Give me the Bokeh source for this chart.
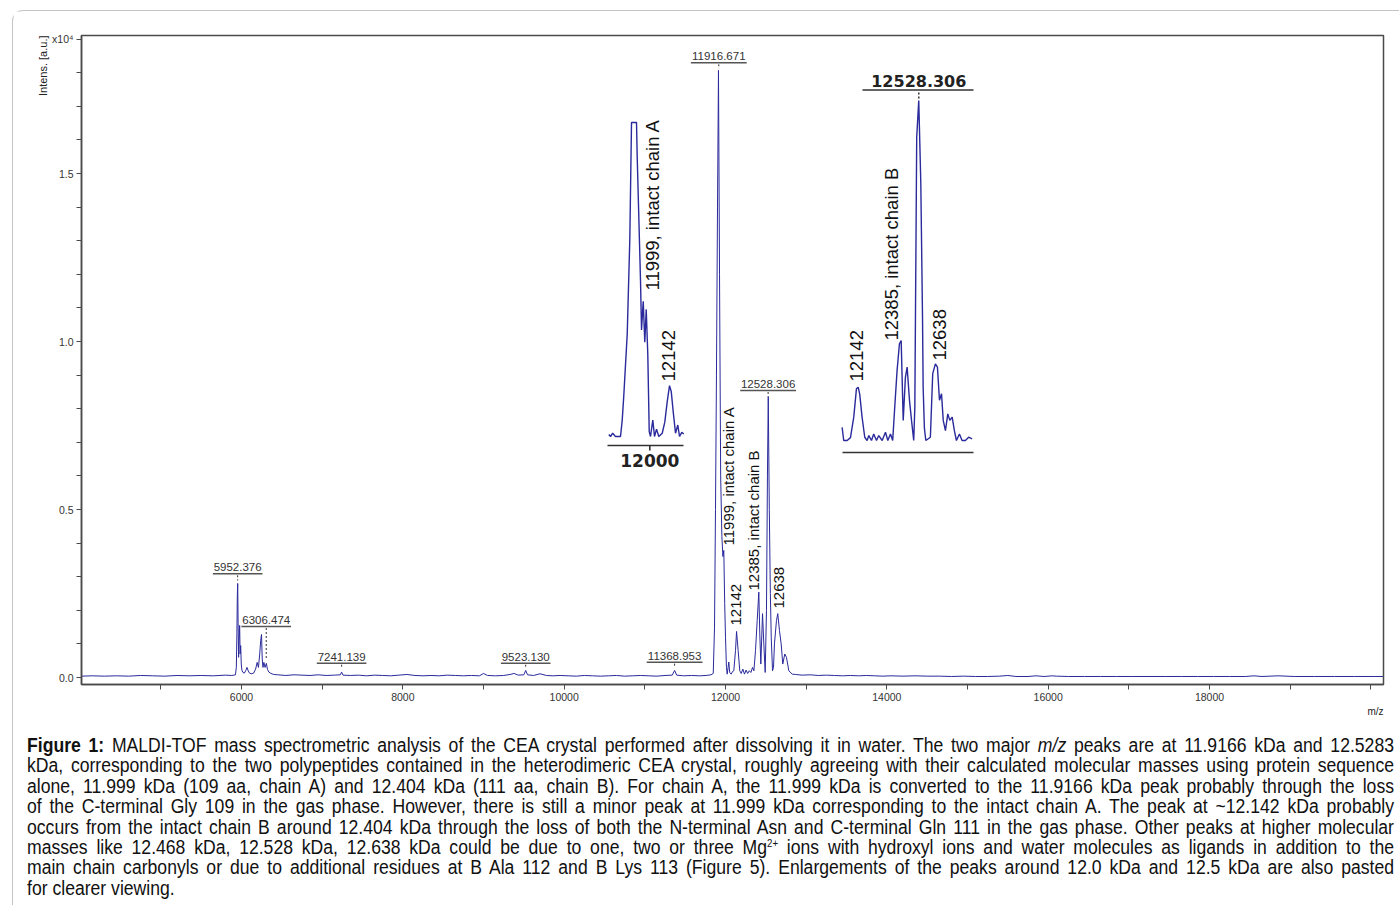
import math
from bokeh.plotting import figure
from bokeh.models import (Range1d, FixedTicker, CustomJSTickFormatter,
                          BasicTickFormatter, Title, Div)
from bokeh.layouts import column
from bokeh.embed import file_html
from bokeh.resources import INLINE
from bokeh.core.properties import value

# ------------------------------------------------------------------ data
# main spectrum (m/z, intensity x10^4)
low_mz = [4020, 4150, 4300, 4450, 4600, 4750, 4900, 5050, 5200, 5350,
          5500, 5650, 5800, 5880]
low_int = [0.004, 0.005, 0.004, 0.005, 0.004, 0.006, 0.005, 0.004, 0.006, 0.005,
           0.006, 0.005, 0.007, 0.006]

c6_mz = [5925, 5936, 5943, 5948, 5953, 5958, 5964, 5970, 5977, 5983,
         5990, 5997, 6005, 6018, 6035, 6052, 6068, 6080, 6095, 6120,
         6150, 6175, 6194, 6210, 6226, 6238, 6248, 6257, 6266, 6277,
         6292, 6308, 6322, 6340, 6365, 6400]
c6_int = [0.008, 0.03, 0.13, 0.24, 0.28, 0.16, 0.06, 0.11, 0.155, 0.07,
          0.095, 0.04, 0.022, 0.015, 0.013, 0.02, 0.03, 0.022, 0.014, 0.011,
          0.013, 0.025, 0.045, 0.03, 0.07, 0.11, 0.128, 0.055, 0.03, 0.045,
          0.03, 0.042, 0.024, 0.016, 0.012, 0.009]

mid_mz = [6450, 6550, 6650, 6750, 6850, 6950, 7050, 7150, 7225, 7241,
          7258, 7350, 7450, 7550, 7650, 7750, 7850, 7950, 8050, 8150,
          8250, 8350, 8450, 8550, 8650, 8750, 8850, 8950, 9000, 9050,
          9150, 9250, 9330, 9380, 9430, 9500, 9523, 9546, 9620, 9700,
          9780, 9860, 9950, 10050, 10150, 10250, 10350, 10450, 10550, 10650,
          10750, 10850, 10950, 11050, 11150, 11250, 11340, 11369, 11395, 11480,
          11580, 11680, 11760]
mid_int = [0.008, 0.006, 0.008, 0.007, 0.006, 0.008, 0.006, 0.007, 0.008, 0.016,
           0.007, 0.006, 0.007, 0.005, 0.007, 0.006, 0.005, 0.007, 0.009, 0.006,
           0.005, 0.006, 0.005, 0.007, 0.006, 0.005, 0.006, 0.005, 0.012, 0.006,
           0.005, 0.006, 0.009, 0.012, 0.007, 0.008, 0.021, 0.008, 0.006, 0.011,
           0.006, 0.005, 0.006, 0.005, 0.004, 0.006, 0.005, 0.004, 0.005, 0.006,
           0.004, 0.005, 0.006, 0.005, 0.004, 0.006, 0.007, 0.021, 0.007, 0.005,
           0.006, 0.005, 0.006]

c12_mz = [11820, 11848, 11864, 11876, 11888, 11901, 11913, 11926, 11940, 11955,
          11968, 11979, 11990, 12000, 12012, 12021, 12032, 12041, 12052, 12070,
          12088, 12103, 12124, 12137, 12157, 12177, 12195, 12215, 12235, 12255,
          12275, 12295, 12315, 12335, 12352, 12372, 12393, 12413, 12425, 12438,
          12459, 12475, 12492, 12508, 12520, 12530, 12543, 12556, 12567, 12583,
          12595, 12607, 12632, 12648, 12669, 12690, 12710, 12735, 12756, 12785,
          12827]
c12_int = [0.008, 0.012, 0.15, 0.5, 0.9, 1.4, 1.807, 1.2, 0.6, 0.42,
           0.36, 0.378, 0.22, 0.12, 0.03, 0.01, 0.03, 0.046, 0.015, 0.01,
           0.018, 0.02, 0.08, 0.137, 0.08, 0.02, 0.012, 0.025, 0.01, 0.022,
           0.012, 0.02, 0.015, 0.03, 0.02, 0.08, 0.17, 0.254, 0.13, 0.04,
           0.19, 0.1, 0.015, 0.2, 0.6, 0.836, 0.5, 0.25, 0.12, 0.02,
           0.03, 0.1, 0.17, 0.19, 0.14, 0.1, 0.04, 0.07, 0.06, 0.02,
           0.01]

hi_mz = [12870, 12950, 13050, 13150, 13250, 13350, 13450, 13550, 13650, 13750,
         13850, 13950, 14050, 14200, 14350, 14500, 14650, 14800, 14950, 15100,
         15250, 15400, 15500, 15600, 15750, 15850, 15950, 16050, 16100, 16250,
         16450, 16650, 16850, 17050, 17250, 17450, 17650, 17850, 18050, 18250,
         18450, 18550, 18650, 18850, 19050, 19300, 19550, 19800, 20050, 20150]
hi_int = [0.009, 0.007, 0.008, 0.006, 0.007, 0.006, 0.005, 0.006, 0.005, 0.006,
          0.005, 0.004, 0.005, 0.004, 0.005, 0.004, 0.004, 0.003, 0.004, 0.003,
          0.003, 0.004, 0.006, 0.003, 0.003, 0.005, 0.003, 0.005, 0.004, 0.003,
          0.003, 0.003, 0.003, 0.003, 0.003, 0.003, 0.003, 0.003, 0.003, 0.003,
          0.003, 0.005, 0.003, 0.005, 0.003, 0.003, 0.003, 0.003, 0.003, 0.003]

# enlargement around 12.0 kDa
ia_mz = [11713, 11725, 11740, 11760, 11795, 11807, 11818, 11842, 11860, 11872,
         11907, 11912, 11935, 11942, 11954, 11965, 11975, 11986, 11996, 12005,
         12021, 12033, 12047, 12063, 12087, 12105, 12122, 12138, 12150, 12164,
         12180, 12196, 12208, 12224, 12238]
ia_int = [0.005, 0.0, 0.008, 0.0, 0.0, 0.04, 0.1, 0.25, 0.48, 0.766,
          0.766, 0.68, 0.38, 0.26, 0.33, 0.23, 0.31, 0.2, 0.012, 0.0,
          0.04, 0.0, 0.018, 0.0, 0.008, 0.035, 0.085, 0.124, 0.11, 0.06,
          0.008, 0.028, 0.0, 0.01, 0.006]

# enlargement around 12.5 kDa
ib_mz = [12040, 12050, 12072, 12093, 12114, 12131, 12142, 12152, 12167, 12184,
         12199, 12210, 12227, 12241, 12259, 12273, 12295, 12316, 12331, 12348,
         12362, 12375, 12390, 12405, 12416, 12429, 12443, 12454, 12469, 12482,
         12496, 12503, 12507, 12515, 12528, 12541, 12552, 12556, 12564, 12573,
         12602, 12617, 12634, 12647, 12660, 12673, 12684, 12698, 12713, 12726,
         12741, 12755, 12768, 12787, 12804, 12825, 12846, 12868]
ib_int = [0.032, 0.0, 0.0, 0.007, 0.057, 0.126, 0.13, 0.113, 0.057, 0.008,
          0.0, 0.012, 0.0, 0.016, 0.0, 0.012, 0.0, 0.02, 0.0, 0.016,
          0.0, 0.081, 0.171, 0.236, 0.244, 0.049, 0.154, 0.179, 0.098, 0.049,
          0.0, 0.08, 0.3, 0.74, 0.829, 0.63, 0.3, 0.13, 0.03, 0.0,
          0.008, 0.163, 0.187, 0.179, 0.098, 0.114, 0.049, 0.024, 0.065, 0.049,
          0.057, 0.024, 0.0, 0.016, 0.0, 0.0, 0.008, 0.004]

x_major_ticks = [6000, 8000, 10000, 12000, 14000, 16000, 18000]
x_minor_ticks = [5000, 7000, 9000, 11000, 13000, 15000, 17000, 19000, 20000]
y_major_ticks = [0.0, 0.5, 1.0, 1.5, 1.9]
y_minor_ticks = [0.1, 0.2, 0.3, 0.4, 0.6, 0.7, 0.8, 0.9, 1.1, 1.2, 1.3, 1.4, 1.6, 1.7, 1.8]

peak_mz = [5952.376, 6306.474, 7241.139, 9523.130, 11368.953, 11916.671, 12528.306]
main_notes = ["11999, intact chain A", "12142", "12385, intact chain B", "12638"]
inset_a_notes = ["11999, intact chain A", "12142"]
inset_b_notes = ["12142", "12385, intact chain B", "12638"]
inset_a_tick = 12000
inset_b_peak = 12528.306

caption_lines = [
    "<b>Figure 1:</b> MALDI-TOF mass spectrometric analysis of the CEA crystal performed after dissolving it in water. The two major <i>m/z</i> peaks are at 11.9166 kDa and 12.5283",
    "kDa, corresponding to the two polypeptides contained in the heterodimeric CEA crystal, roughly agreeing with their calculated molecular masses using protein sequence",
    "alone, 11.999 kDa (109 aa, chain A) and 12.404 kDa (111 aa, chain B). For chain A, the 11.999 kDa is converted to the 11.9166 kDa peak probably through the loss",
    "of the C-terminal Gly 109 in the gas phase. However, there is still a minor peak at 11.999 kDa corresponding to the intact chain A. The peak at ~12.142 kDa probably",
    "occurs from the intact chain B around 12.404 kDa through the loss of both the N-terminal Asn and C-terminal Gln 111 in the gas phase. Other peaks at higher molecular",
    "masses like 12.468 kDa, 12.528 kDa, 12.638 kDa could be due to one, two or three Mg<sup style=\"font-size:11px;line-height:0;vertical-align:7px\">2+</sup> ions with hydroxyl ions and water molecules as ligands in addition to the",
    "main chain carbonyls or due to additional residues at B Ala 112 and B Lys 113 (Figure 5). Enlargements of the peaks around 12.0 kDa and 12.5 kDa are also pasted",
    "for clearer viewing.",
]

# ------------------------------------------------------------------ layout (page pixels)
FL, FR, FT, FB = 81, 1383, 35, 684
PX_PER_DA = 968 / 12000.0

def main_x(px): return 6000 + (px - 241) / PX_PER_DA
def main_px(mz): return 241 + (mz - 6000) * PX_PER_DA
def main_y(py): return (677 - py) * 1.5 / 504.0
def a_x(px): return 12000 + (px - 649.3) * 7.0
def a_y(py): return (436 - py) / 410.0
def b_x(px): return 12528.306 + (px - 918.3) * 6.37
def b_y(py): return (440 - py) / 410.0

BLUE = "#2a2a9c"
INK = "#222222"
SANS = value("Liberation Sans")

p = figure(width=1376, height=709,
           x_range=Range1d(main_x(FL), main_x(FR)),
           y_range=Range1d(main_y(FB), main_y(FT)),
           output_backend="svg", toolbar_location=None,
           min_border_left=68, min_border_right=6, min_border_top=24, min_border_bottom=36)
p.extra_x_ranges = {"a": Range1d(a_x(FL), a_x(FR)), "b": Range1d(b_x(FL), b_x(FR))}
p.extra_y_ranges = {"a": Range1d(a_y(FB), a_y(FT)), "b": Range1d(b_y(FB), b_y(FT))}

p.grid.visible = False
p.outline_line_color = "#4a4a4a"
p.outline_line_width = 1.5

p.xaxis.ticker = FixedTicker(ticks=x_major_ticks, minor_ticks=x_minor_ticks)
p.xaxis.formatter = BasicTickFormatter(use_scientific=False)
p.yaxis.ticker = FixedTicker(ticks=y_major_ticks, minor_ticks=y_minor_ticks)
p.yaxis.formatter = CustomJSTickFormatter(
    code="return tick > 1.8 ? 'x10\u2074' : tick.toFixed(1);")
for ax in (p.xaxis, p.yaxis):
    ax.axis_line_color = "#4a4a4a"
    ax.axis_line_width = 1.5
    ax.major_tick_line_color = "#4a4a4a"
    ax.minor_tick_line_color = "#4a4a4a"
    ax.major_tick_out = 5
    ax.major_tick_in = 0
    ax.minor_tick_out = 5
    ax.minor_tick_in = 0
    ax.major_label_text_font = "Liberation Sans"
    ax.major_label_text_font_size = "10.5px"
    ax.major_label_text_color = "#333333"
    ax.major_label_standoff = 3

p.add_layout(Title(text="Intens. [a.u.]", align="right", text_font="Liberation Sans",
                   text_font_size="11px", text_font_style="normal", text_color=INK,
                   standoff=2), "left")
p.add_layout(Title(text="m/z", align="right", text_font="Liberation Sans",
                   text_font_size="10px", text_font_style="normal", text_color=INK,
                   standoff=0), "below")

# spectrum
spec_mz = low_mz + c6_mz + mid_mz + c12_mz + hi_mz
spec_int = low_int + c6_int + mid_int + c12_int + hi_int
p.line(spec_mz, spec_int, line_color=BLUE, line_width=1)

# peak labels (value, underline, dotted leader)
label_layout = {5952.376: (573.3, 580), 6306.474: (626, 658), 7241.139: (662.7, 668),
                9523.130: (662.7, 667), 11368.953: (661.7, 667), 11916.671: (62.3, 68),
                12528.306: (390, 396)}
for mz in peak_mz:
    cx = main_px(mz)
    txt = "%.3f" % mz
    hw = 3.1 * len(txt)
    ul_py, tip_py = label_layout[mz]
    p.text(x=[mz], y=[main_y(ul_py - 6.5)], text=[txt], text_align="center",
           text_baseline="middle", text_font=SANS, text_font_size="11.5px",
           text_color="#333333")
    p.segment(x0=[main_x(cx - hw)], y0=[main_y(ul_py)], x1=[main_x(cx + hw)], y1=[main_y(ul_py)],
              line_color="#555555", line_width=1.5)
    p.segment(x0=[mz], y0=[main_y(ul_py + 1.5)], x1=[mz], y1=[main_y(tip_py)],
              line_color="#333333", line_width=1, line_dash="2 2")

# rotated annotations in the main plot
main_note_px = [(727.5, 545), (735, 625), (753.3, 590), (778, 608)]
p.text(x=[main_x(c[0]) for c in main_note_px], y=[main_y(c[1]) for c in main_note_px],
       text=main_notes, angle=math.pi / 2, text_align="left", text_baseline="middle",
       text_font=SANS, text_font_size="15px", text_color="#111111")

# ---- enlargement A
p.line(ia_mz, ia_int, x_range_name="a", y_range_name="a", line_color=BLUE, line_width=1.4)
p.line([a_x(607), a_x(683)], [a_y(445), a_y(445)], x_range_name="a", y_range_name="a",
       line_color="#333333", line_width=1.6)
p.segment(x0=[inset_a_tick], y0=[a_y(445)], x1=[inset_a_tick], y1=[a_y(450)],
          x_range_name="a", y_range_name="a", line_color="#333333", line_width=1.6)
p.text(x=[inset_a_tick], y=[a_y(459.5)], text=[str(inset_a_tick)], x_range_name="a", y_range_name="a",
       text_align="center", text_baseline="middle", text_font=value("DejaVu Sans"),
       text_font_style="bold", text_font_size="17px", text_color=INK)
a_note_px = [(652, 290), (668, 381)]
p.text(x=[a_x(c[0]) for c in a_note_px], y=[a_y(c[1]) for c in a_note_px], text=inset_a_notes,
       x_range_name="a", y_range_name="a", angle=math.pi / 2, text_align="left",
       text_baseline="middle", text_font=SANS, text_font_size="18.5px", text_color="#111111")

# ---- enlargement B
p.line(ib_mz, ib_int, x_range_name="b", y_range_name="b", line_color=BLUE, line_width=1.4)
p.line([b_x(842), b_x(973)], [b_y(452), b_y(452)], x_range_name="b", y_range_name="b",
       line_color="#333333", line_width=1.6)
p.text(x=[inset_b_peak], y=[b_y(80.5)], text=["%.3f" % inset_b_peak], x_range_name="b", y_range_name="b",
       text_align="center", text_baseline="middle", text_font=value("DejaVu Sans"),
       text_font_style="bold", text_font_size="16px", text_color=INK)
p.segment(x0=[b_x(862)], y0=[b_y(89.5)], x1=[b_x(973)], y1=[b_y(89.5)],
          x_range_name="b", y_range_name="b", line_color="#333333", line_width=1.6)
p.segment(x0=[inset_b_peak], y0=[b_y(92)], x1=[inset_b_peak], y1=[b_y(98)],
          x_range_name="b", y_range_name="b", line_color="#333333", line_width=1.5, line_dash="2 2")
b_note_px = [(856, 381), (891, 340), (939, 360)]
p.text(x=[b_x(c[0]) for c in b_note_px], y=[b_y(c[1]) for c in b_note_px], text=inset_b_notes,
       x_range_name="b", y_range_name="b", angle=math.pi / 2, text_align="left",
       text_baseline="middle", text_font=SANS, text_font_size="18.5px", text_color="#111111")

# ---- caption (narrow-face look: Liberation Sans squeezed horizontally)
SQ = 0.88
rows = []
for i, ln in enumerate(caption_lines):
    last = i == len(caption_lines) - 1
    align = "left" if last else "justify"
    rows.append('<div style="height:20.4px;line-height:20.4px;white-space:nowrap;text-align:%s;'
                'text-align-last:%s;">%s</div>' % (align, align, ln))
inner_w = 1367 / SQ
html = ('<div style="padding:10px 0 0 9px;">'
        '<div style="width:%.1fpx;transform:scaleX(%.2f);transform-origin:0 0;'
        'font-family:\'Liberation Sans\',Arial,sans-serif;font-size:20px;color:#111;">%s</div></div>'
        % (inner_w, SQ, "".join(rows)))
cap = Div(text=html, width=1378, styles={"overflow": "hidden"})

lay = column(p, cap, margin=(10, 0, 0, 12),
             styles={"border-left": "1px solid #c4c4c4", "border-top": "1px solid #c4c4c4",
                     "border-top-left-radius": "11px"})

open("out.html", "w").write(file_html(lay, INLINE))
